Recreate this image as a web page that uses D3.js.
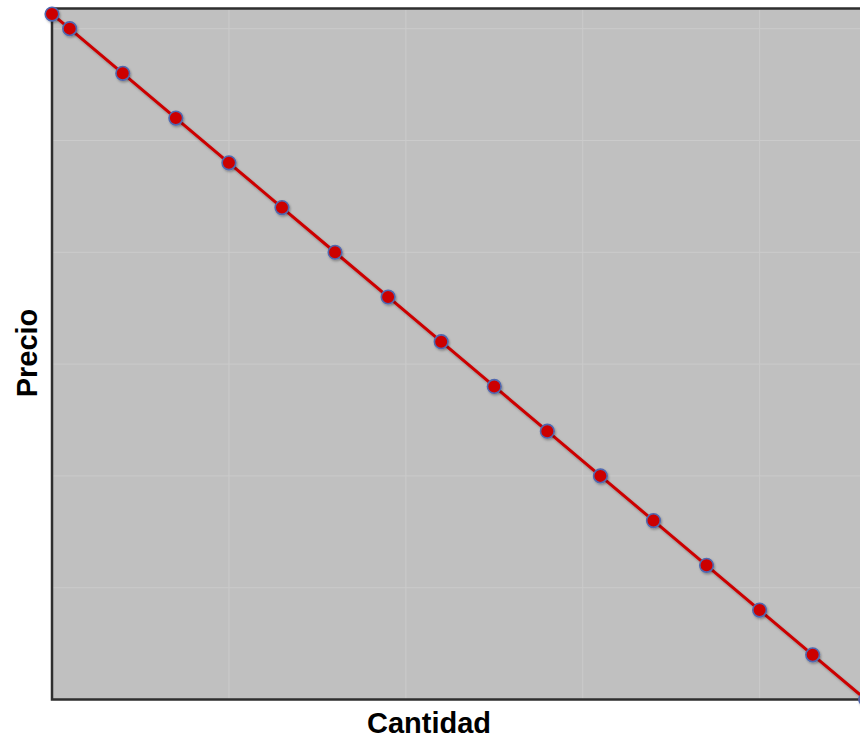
<!DOCTYPE html>
<html>
<head>
<meta charset="utf-8">
<script src="https://cdn.jsdelivr.net/npm/d3@7"></script>
<style>
  body { margin: 0; background: #fff; }
  svg { display: block; }
</style>
</head>
<body>
<div id="chart"></div>
<script>
var cantidad = [0, 1, 4, 7, 10, 13, 16, 19, 22, 25, 28, 31, 34, 37, 40, 43, 46];
var precio = [61.3, 60, 56, 52, 48, 44, 40, 36, 32, 28, 24, 20, 16, 12, 8, 4, 0];
var xTicks = [10, 20, 30, 40];
var yTicks = [10, 20, 30, 40, 50, 60];

var width = 860;
var height = 740;
var plotLeft = 52;
var plotRight = 936.5;
var plotTop = 8.5;
var plotBottom = 699.5;

var svg = d3.select("#chart").append("svg")
  .attr("width", width)
  .attr("height", height);

var defs = svg.append("defs");
defs.append("filter")
  .attr("id", "shadow")
  .attr("x", "-50%").attr("y", "-50%")
  .attr("width", "200%").attr("height", "200%")
  .append("feDropShadow")
  .attr("dx", 1).attr("dy", 1.5)
  .attr("stdDeviation", 1.2)
  .attr("flood-color", "#000")
  .attr("flood-opacity", 0.3);

var x = d3.scaleLinear().domain([0, 50]).range([plotLeft, plotRight]);
var y = d3.scaleLinear().domain([0, 61.8]).range([plotBottom, plotTop]);

svg.append("rect")
  .attr("x", plotLeft)
  .attr("y", plotTop)
  .attr("width", plotRight - plotLeft)
  .attr("height", plotBottom - plotTop)
  .attr("fill", "#c0c0c0");

// grid
svg.append("g")
  .selectAll("line")
  .data(xTicks)
  .enter()
  .append("line")
  .attr("x1", d => x(d)).attr("x2", d => x(d))
  .attr("y1", plotTop).attr("y2", plotBottom)
  .attr("stroke", "#cbcbcb")
  .attr("stroke-width", 1);

svg.append("g")
  .selectAll("line")
  .data(yTicks)
  .enter()
  .append("line")
  .attr("x1", plotLeft).attr("x2", plotRight)
  .attr("y1", d => y(d)).attr("y2", d => y(d))
  .attr("stroke", "#cbcbcb")
  .attr("stroke-width", 1);

// frame
svg.append("rect")
  .attr("x", plotLeft)
  .attr("y", plotTop)
  .attr("width", plotRight - plotLeft)
  .attr("height", plotBottom - plotTop)
  .attr("fill", "none")
  .attr("stroke", "#2e2e2e")
  .attr("stroke-width", 2.5);

var data = cantidad.map((q, i) => ({q: q, p: precio[i]}));

var line = d3.line()
  .x(d => x(d.q))
  .y(d => y(d.p));

svg.append("path")
  .datum(data)
  .attr("d", line)
  .attr("fill", "none")
  .attr("stroke", "#cc0000")
  .attr("stroke-width", 3)
  .attr("filter", "url(#shadow)");

svg.append("g")
  .selectAll("circle")
  .data(data)
  .enter()
  .append("circle")
  .attr("cx", d => x(d.q))
  .attr("cy", d => y(d.p))
  .attr("r", 6.8)
  .attr("fill", "#cc0000")
  .attr("stroke", "#5068b0")
  .attr("stroke-width", 1.6)
  .attr("filter", "url(#shadow)");

svg.append("text")
  .attr("x", 429)
  .attr("y", 733)
  .attr("text-anchor", "middle")
  .attr("font-family", "'Liberation Sans', Arial, sans-serif")
  .attr("font-weight", "bold")
  .attr("font-size", 29)
  .attr("fill", "#000")
  .text("Cantidad");

svg.append("text")
  .attr("transform", "translate(37,353) rotate(-90)")
  .attr("text-anchor", "middle")
  .attr("font-family", "'Liberation Sans', Arial, sans-serif")
  .attr("font-weight", "bold")
  .attr("font-size", 29)
  .attr("fill", "#000")
  .text("Precio");
</script>
</body>
</html>
